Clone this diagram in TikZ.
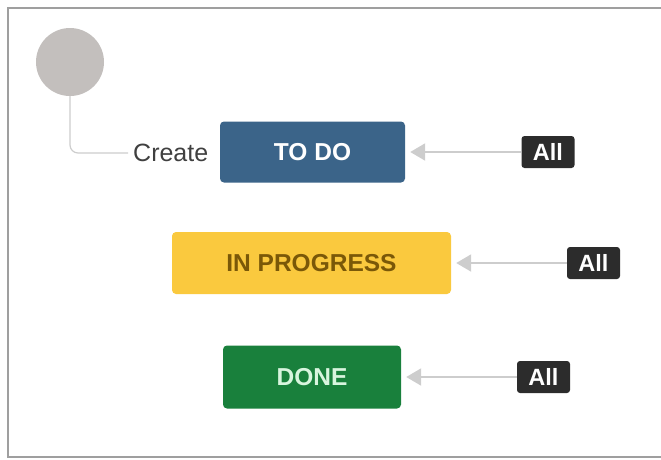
\documentclass[tikz,border=0pt]{standalone}
\usepackage{fontspec}
\setmainfont{Liberation Sans}
\usepackage{tikz}
\usetikzlibrary{shapes,arrows,arrows.meta}

\definecolor{todoBlue}{HTML}{3B6489}
\definecolor{progYellow}{HTML}{FAC93E}
\definecolor{progText}{HTML}{7A5808}
\definecolor{doneGreen}{HTML}{19803C}
\definecolor{doneText}{HTML}{D8F5DE}
\definecolor{badgeDark}{HTML}{2C2C2C}
\definecolor{startGray}{HTML}{C3BFBD}
\definecolor{lineGray}{HTML}{CDCDCD}

\begin{document}
\begin{tikzpicture}[x=1pt,y=-1pt]
		\useasboundingbox (0,0) rectangle (661,459);
		\draw[gray!75, line width=1.6pt] (661,8) -- (8,8) -- (8,457) -- (661,457);
		\begin{scope}
            [
                styleStatus/.style={
					rounded corners=4pt, font=\bfseries\fontsize{24.5}{28}\selectfont,
					inner sep=0pt
					},
				styleAll/.style={fill=badgeDark, text=white, rounded corners=3pt,
					font=\bfseries\fontsize{23.5}{26}\selectfont,
					minimum width=53pt, minimum height=32pt, inner sep=0pt},
				start/.style={circle, fill=startGray, minimum size=68pt, inner sep=0pt},
            ]
			\node(init)[start] at (70,62) {};
			\node(create)[anchor=west, inner xsep=5pt, inner ysep=0pt,
				text=black!75, font=\fontsize{25}{28}\selectfont] at (128,153) {Create};

			\node(todo)[styleStatus, fill=todoBlue, text=white,
				minimum width=185pt, minimum height=61pt] at (312.5,152) {TO DO};
			\node(prog)[styleStatus, fill=progYellow, text=progText,
				minimum width=279pt, minimum height=62pt] at (311.5,263) {IN PROGRESS};
			\node(done)[styleStatus, fill=doneGreen, text=doneText,
				minimum width=178pt, minimum height=63pt] at (312,377) {DONE};

			\node(allTodo)[styleAll] at (548,152) {All};
			\node(allProg)[styleAll] at (593.5,263) {All};
			\node(allDone)[styleAll] at (543.5,377) {All};
		\end{scope}
		\begin{scope}
            [-{Triangle[length=15pt,width=17pt]}, lineGray, line width=2pt, shorten >=5pt]
            \draw[-, rounded corners=8pt, line width=1.2pt, shorten >=0pt]
			(init) |- (create);
            \path
			(allTodo) edge        node{}(todo)
			(allProg) edge        node{}(prog)
			(allDone) edge        node{}(done);
		\end{scope}
    \end{tikzpicture}
\end{document}
